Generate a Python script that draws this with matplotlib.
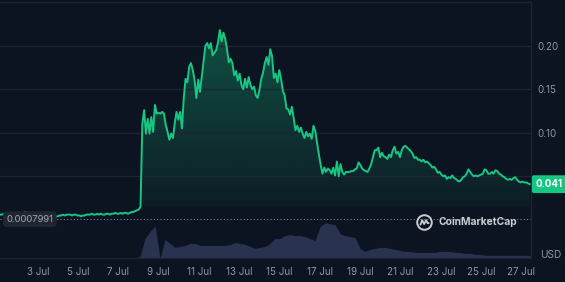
import numpy as np
import matplotlib
matplotlib.use("Agg")
import matplotlib.pyplot as plt
from matplotlib.patches import Polygon
from matplotlib.path import Path
from matplotlib.transforms import blended_transform_factory

plt.rcParams["font.family"] = ["Inter", "DejaVu Sans"]

BG = "#0d1421"
GREEN = "#16c784"
GRID = "#1e2532"
TXT = "#8f96a7"

# price (USD), evenly spaced in time from ~1 Jul 03:00 to ~27 Jul 10:00
price = [
    0.006, 0.006, 0.007, 0.006, 0.007, 0.007, 0.006, 0.007, 0.008, 0.007,
    0.008, 0.008, 0.007, 0.008, 0.009, 0.008, 0.007, 0.008, 0.007, 0.006,
    0.006, 0.005, 0.005, 0.006, 0.005, 0.005, 0.004, 0.004,
    0.004, 0.004, 0.005, 0.004, 0.004, 0.005, 0.005, 0.006, 0.005, 0.006,
    0.006, 0.006, 0.005, 0.006, 0.006, 0.005, 0.005, 0.004, 0.005, 0.005,
    0.006, 0.006, 0.006, 0.007, 0.006, 0.006, 0.007, 0.006, 0.007, 0.006,
    0.006, 0.007, 0.007, 0.006, 0.007, 0.007, 0.008, 0.007, 0.007, 0.008,
    0.007, 0.008, 0.008, 0.007, 0.008, 0.009, 0.009, 0.010, 0.011,
    0.012, 0.015, 0.110, 0.126, 0.099, 0.116, 0.099, 0.118, 0.101, 0.132,
    0.122, 0.123, 0.122, 0.124, 0.122, 0.109, 0.101, 0.092, 0.099, 0.094,
    0.111, 0.124, 0.115, 0.124, 0.105, 0.140, 0.162, 0.158, 0.176, 0.180,
    0.172, 0.161, 0.140, 0.161, 0.147, 0.165, 0.182, 0.200, 0.203, 0.197,
    0.203, 0.189, 0.192, 0.195, 0.204, 0.218, 0.205, 0.215, 0.208, 0.196,
    0.181, 0.185, 0.180, 0.166, 0.171, 0.160, 0.168, 0.155, 0.150, 0.162,
    0.152, 0.164, 0.155, 0.150, 0.153, 0.143, 0.140, 0.149, 0.162, 0.169,
    0.180, 0.187, 0.178, 0.196, 0.188, 0.163, 0.168, 0.158, 0.172, 0.162,
    0.148, 0.143, 0.128, 0.127, 0.121, 0.130, 0.117, 0.103, 0.108, 0.101,
    0.106, 0.099, 0.094, 0.101, 0.096, 0.099, 0.093, 0.108, 0.102, 0.088,
    0.075, 0.063, 0.053, 0.060, 0.055, 0.059, 0.057, 0.053, 0.060, 0.051,
    0.067, 0.050, 0.064, 0.055, 0.052, 0.055, 0.055, 0.055, 0.056, 0.056,
    0.058, 0.059, 0.066, 0.063, 0.059, 0.057, 0.056, 0.055, 0.059, 0.064,
    0.072, 0.080, 0.080, 0.083, 0.072, 0.077, 0.073, 0.072, 0.070, 0.075,
    0.072, 0.080, 0.084, 0.076, 0.078, 0.072, 0.080, 0.084, 0.085, 0.083,
    0.081, 0.079, 0.076, 0.071, 0.072, 0.069, 0.069, 0.067, 0.069, 0.066,
    0.067, 0.065, 0.063, 0.060, 0.061, 0.058, 0.054, 0.055, 0.052, 0.050,
    0.051, 0.047, 0.049, 0.048, 0.051, 0.048, 0.047, 0.045, 0.044, 0.046,
    0.049, 0.050, 0.053, 0.058, 0.055, 0.052, 0.050, 0.051, 0.050, 0.051,
    0.052, 0.053, 0.058, 0.057, 0.053, 0.053, 0.055, 0.053, 0.057, 0.056,
    0.053, 0.052, 0.050, 0.049, 0.047, 0.046, 0.047, 0.046, 0.048, 0.049,
    0.046, 0.044, 0.043, 0.044, 0.043, 0.043, 0.042, 0.041,
]
price_start, price_end = 1.124, 27.41  # day of July

# volume (relative), evenly spaced over the same period
volume = [
    0.3, 0.3, 0.3, 0.8, 0.8, 0.8, 0.8, 0.5, 0.3, 0.3,
    0.2, 0.2, 0.2, 0.2, 0.2, 0.2, 0.2, 0.2, 0.2, 0.2,
    0.2, 0.2, 0.2, 0.2, 0.2, 0.3, 0.3, 0.3,
    2, 20, 27, 33, 0, 19, 15, 11, 12, 13,
    15, 15, 13, 13, 13, 13, 13, 13, 14, 16,
    15, 14, 12, 10, 11, 12, 15, 20, 20, 23,
    24, 23, 23, 22, 20, 18, 32, 36, 35, 34,
    25, 23, 22, 21, 10, 7, 9, 10, 11, 11,
    10, 9, 8, 7, 7, 6, 6, 6, 6, 6,
    7, 7, 7, 6, 6, 5, 5, 4, 4, 3,
    3, 3, 3, 3, 3, 3, 3, 3, 3,
]
volume_start, volume_end = 1.124, 27.43

x_ticks = [3, 5, 7, 9, 11, 13, 15, 17, 19, 21, 23, 25, 27]
x_labels = [f"{d} Jul" for d in x_ticks]
y_ticks = [0.05, 0.10, 0.15, 0.20]
y_labels = ["", "0.10", "0.15", "0.20"]
start_price = 0.0007991
last_price = 0.041

price = np.array(price)
t = np.linspace(price_start, price_end, len(price))
tv = np.linspace(volume_start, volume_end, len(volume))

fig = plt.figure(figsize=(5.65, 2.82), dpi=100, facecolor=BG)
ax = fig.add_axes([0, 0.084, 0.9407, 0.909])
ax.set_facecolor(BG)
ax.set_xlim(1.124, 27.50)
ax.set_ylim(-0.0442, 0.2503)

# volume on its own scale
axv = ax.twinx()
axv.set_ylim(0, max(volume) * 7.2)
axv.fill_between(tv, 0, volume, color="#29324f", linewidth=0)
axv.set_yticks([])
axv.set_zorder(0)
ax.set_zorder(1)
ax.patch.set_visible(False)
axv.patch.set_visible(True)
axv.patch.set_facecolor(BG)
for s in axv.spines.values():
    s.set_visible(False)

# gradient fill under the line
base = 0.015
top = price.max()
verts = [(t[0], base)] + list(zip(t, np.maximum(price, base))) + [(t[-1], base)]
poly = Polygon(verts, closed=True, facecolor="none", edgecolor="none")
ax.add_patch(poly)
grad = np.zeros((256, 1, 4))
grad[:, 0, :3] = matplotlib.colors.to_rgb(GREEN)
grad[:, 0, 3] = np.linspace(0.05, 0.34, 256)
im = ax.imshow(grad, extent=[t[0], t[-1], base, top], origin="lower",
               aspect="auto", zorder=1, interpolation="bilinear")
im.set_clip_path(poly)

ax.plot(t, price, color=GREEN, linewidth=1.4, zorder=3, solid_joinstyle="round")

# grid, ticks
ax.set_yticks(y_ticks)
ax.set_yticklabels(y_labels)
ax.yaxis.tick_right()
ax.grid(axis="y", color=GRID, linewidth=0.9)
ax.set_xticks(x_ticks)
ax.set_xticklabels(x_labels)
ax.tick_params(axis="both", length=0, colors=TXT, labelsize=7)
ax.tick_params(axis="x", pad=6)
ax.tick_params(axis="y", pad=4)
ax.spines["left"].set_visible(False)
for side in ["right", "top", "bottom"]:
    ax.spines[side].set_color(GRID)
    ax.spines[side].set_linewidth(0.9)

# start price dotted line + label
ax.axhline(start_price, color="#7d8496", linewidth=0.8, linestyle=(0, (1, 2)), zorder=2)
trans = blended_transform_factory(ax.transAxes, ax.transData)
ax.text(0.012, start_price, "0.0007991", transform=trans, fontsize=6.8, color="#a3a9b7",
        va="center", ha="left", zorder=5,
        bbox=dict(boxstyle="round,pad=0.35,rounding_size=0.4", fc="#1f2531", ec="none"))

# last price label
ax.text(1.008, last_price, f"{last_price:.3f}", transform=trans, fontsize=7,
        color="white", fontweight="bold", va="center", ha="left", zorder=5, clip_on=False,
        bbox=dict(boxstyle="round,pad=0.4,rounding_size=0.2", fc=GREEN, ec="none"))

ax.text(1.016, -0.0404, "USD", transform=trans, fontsize=7.3, color=TXT,
        va="center", ha="left", clip_on=False)

# watermark
wm = "#c8ccd3"
fig.text(438.3 / 565, 1 - 222.3 / 282, "CoinMarketCap", fontsize=7.4, fontweight="bold",
         color=wm, ha="left", va="center")
logo_x, logo_y = 22.17, -0.0029
ax.plot([logo_x], [logo_y], marker="o", markersize=10.5, markerfacecolor="none",
        markeredgecolor=wm, markeredgewidth=1.4, zorder=6)
m_path = Path([(-0.55, -0.35), (-0.3, 0.3), (-0.05, -0.2), (0.2, 0.3), (0.4, -0.1), (0.62, -0.05)])
ax.plot([logo_x], [logo_y], marker=m_path, markersize=7, markerfacecolor="none",
        markeredgecolor=wm, markeredgewidth=1.3, zorder=6)

fig.savefig("out.png", dpi=100, facecolor=BG)
